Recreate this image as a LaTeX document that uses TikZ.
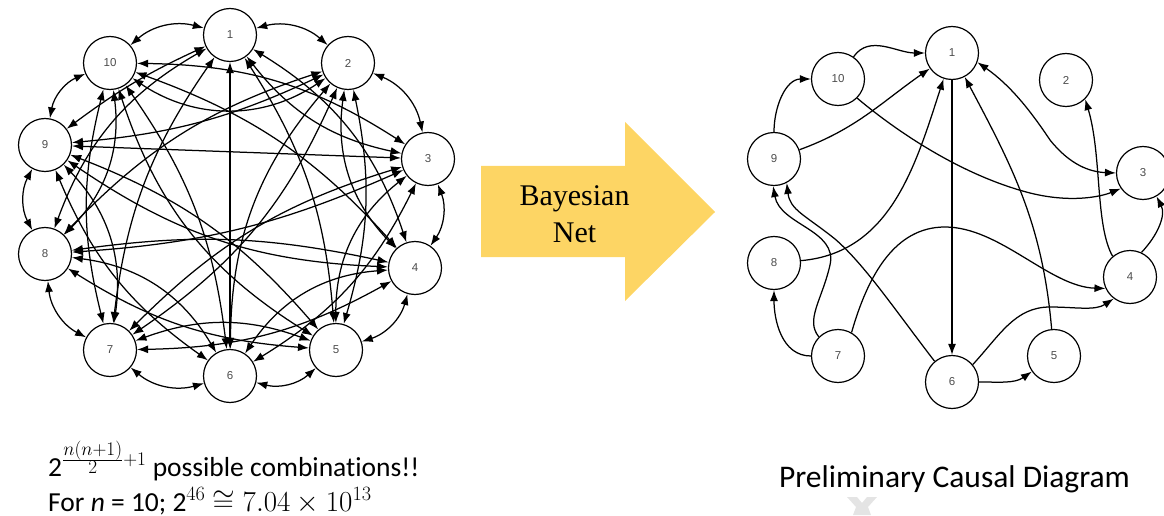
\documentclass[tikz,border=0pt]{standalone}
\usepackage{fix-cm}
\usepackage{fontspec}
\setmainfont{Carlito}[Ligatures=NoCommon]
\newfontfamily\serifb{Liberation Serif}
\newfontfamily\labelfont{Liberation Sans}
\usetikzlibrary{arrows.meta}
\definecolor{arrowyellow}{RGB}{253,213,100}
\definecolor{wmgray}{RGB}{228,228,228}
\tikzset{
  vert/.style={circle, draw, line width=1.2pt, minimum size=53pt, inner sep=0pt,
    font=\labelfont\fontsize{11.5}{13}\selectfont, text=black!70},
  edge/.style={line width=1.25pt},
  >={Latex[length=11pt,width=8pt]},
  bigtext/.style={font=\fontsize{27.5}{33}\selectfont, inner sep=0pt},
  captext/.style={font=\fontsize{31.5}{38}\selectfont, inner sep=0pt},
  serifarrow/.style={font=\serifb\fontsize{30}{36}\selectfont, inner sep=0pt}
}
\begin{document}
\begin{tikzpicture}[x=1pt,y=1pt]
\useasboundingbox (0,0) rectangle (1164,515);
% ---------- left: complete graph ----------
\node[vert] (L1) at (230,480) {1};
\node[vert] (L2) at (348,452) {2};
\node[vert] (L3) at (428,356) {3};
\node[vert] (L4) at (415,247) {4};
\node[vert] (L5) at (336,165) {5};
\node[vert] (L6) at (230,139) {6};
\node[vert] (L7) at (110,165) {7};
\node[vert] (L8) at (45,261) {8};
\node[vert] (L9) at (45,370) {9};
\node[vert] (L10) at (110,452) {10};
\foreach \a/\b/\c in {1/2/28,2/3/28,3/4/28,4/5/28,5/6/28,6/7/28,7/8/28,8/9/28,9/10/28,10/1/28,
  1/3/-20,1/4/20,1/5/14,1/6/0,1/7/-14,1/8/-20,1/9/-6,
  2/4/-26,2/5/14,2/6/-20,2/7/16,2/8/-14,2/9/10,2/10/34,
  3/5/-26,3/6/16,3/7/-14,3/8/10,3/9/0,3/10/-16,
  4/6/-26,4/7/14,4/8/-10,4/9/16,4/10/-14,
  5/7/-20,5/8/14,5/9/-14,5/10/20,
  6/8/-26,6/9/16,6/10/-14,
  7/9/-26,7/10/14,
  8/10/-26}
  \draw[edge,<->] (L\a) to[bend left=\c] (L\b);
% ---------- middle arrow ----------
\fill[arrowyellow] (481,349) -- (625,349) -- (625,393) -- (715,303) -- (625,214) -- (625,258) -- (481,258) -- cycle;
\node[serifarrow, anchor=base] (tb) at (574.5,310) {Bayesian};
\node[serifarrow, anchor=base] (tn) at (574.5,273) {Net};
% ---------- right: causal diagram ----------
\node[vert] (R1) at (952,462) {1};
\node[vert] (R2) at (1066,435) {2};
\node[vert] (R3) at (1143,342) {3};
\node[vert] (R4) at (1130,238) {4};
\node[vert] (R5) at (1054,159) {5};
\node[vert] (R6) at (952,133) {6};
\node[vert] (R7) at (838,159) {7};
\node[vert] (R8) at (774,252) {8};
\node[vert] (R9) at (774,356) {9};
\node[vert] (R10) at (838,436) {10};
\draw[edge,->] (R10) to[out=55,in=180] (R1);
\draw[edge,->] (R9) to[out=90,in=180] (R10);
\draw[edge,->] (R9) to[out=20,in=215] (R1);
\draw[edge,->] (R1) -- (R6);
\draw[edge,->] (R5) to[out=95,in=-62] (R1);
\draw[edge,->] (R8) to[out=5,in=-108] (R1);
\draw[edge,->] (R7) to[out=180,in=-90] (R8);
\draw[edge,->] (R7.135) .. controls (805,195) and (822,215) .. (830,250) .. controls (838,285) and (780,290) .. (R9.-92);
\draw[edge,->] (R6.130) .. controls (895,205) and (865,250) .. (835,276) .. controls (805,300) and (790,305) .. (R9.-62);
\draw[edge,->] (R7.60) .. controls (868,240) and (895,288) .. (945,288) .. controls (1000,288) and (1050,228) .. (R4.205);
\draw[edge,->] (R6.40) .. controls (1000,180) and (1015,208) .. (1050,208) .. controls (1075,208) and (1095,204) .. (R4.233);
\draw[edge,->] (R6) to[out=0,in=215] (R5);
\draw[edge,<->] (R1.-20) .. controls (1010,430) and (1030,405) .. (1050,375) .. controls (1070,350) and (1090,343) .. (R3.180);
\draw[edge,->] (R10.-45) .. controls (895,385) and (960,340) .. (1030,322) .. controls (1070,312) and (1100,318) .. (R3.215);
\draw[edge,->] (R4.130) .. controls (1095,290) and (1102,360) .. (R2.-45);
\draw[edge,->] (R4.65) .. controls (1158,280) and (1166,300) .. (R3.-60);
% ---------- texts ----------
\node[bigtext, anchor=base west, text depth=5pt] (t1) at (48,38.5) {2$^{\frac{\scriptstyle n(n+1)}{\scriptstyle 2}+1}$ possible combinations!!};
\node[bigtext, anchor=base west, text height=19pt] (t2) at (48,4) {For \textit{n} = 10; 2{\fontsize{29}{35}\selectfont$^{46}$ $\cong 7.04\times 10^{13}$}};
\node[captext, anchor=base] (cap) at (954.5,28) {Preliminary Causal Diagram};
% faint mark
\fill[wmgray] (847,18) -- (857,18) -- (862,12) -- (867,18) -- (877,18) -- (868,8) -- (871,0) -- (853,0) -- (856,8) -- cycle;
\end{tikzpicture}
\end{document}
